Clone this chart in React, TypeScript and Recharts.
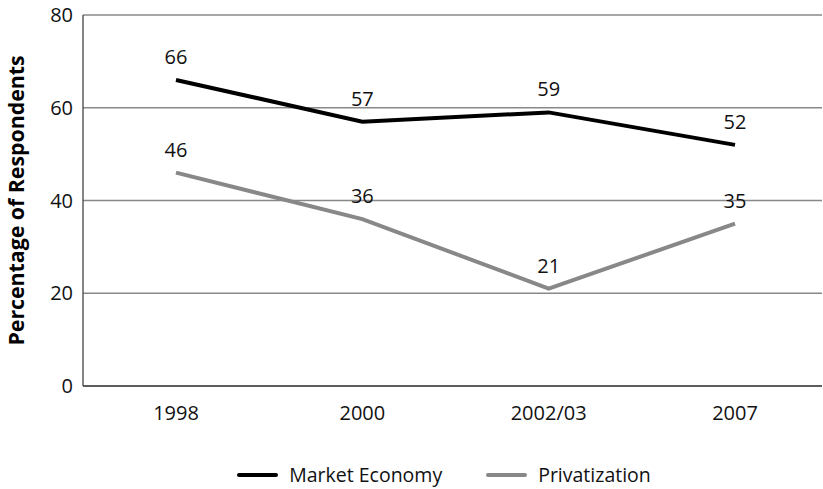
import React from 'react';
import { LineChart, Line, XAxis, YAxis, CartesianGrid, Legend, LabelList, Label } from 'recharts';

const years = ['1998', '2000', '2002/03', '2007'];
const marketEconomy = [66, 57, 59, 52];
const privatization = [46, 36, 21, 35];
const yTicks = [0, 20, 40, 60, 80];

const data = years.map((y, i) => ({ year: y, market: marketEconomy[i], priv: privatization[i] }));

const FONT = '"Open Sans", sans-serif';

const legendItems = [
  { name: 'Market Economy', color: '#000000' },
  { name: 'Privatization', color: '#888888' },
];

const renderLegend = () => (
  <div style={{ display: 'flex', justifyContent: 'center', alignItems: 'center', fontFamily: FONT, fontSize: 19.5, color: '#111', paddingLeft: 66, paddingTop: 20 }}>
    {legendItems.map((it, i) => (
      <div key={it.name} style={{ display: 'flex', alignItems: 'center', marginRight: i === 0 ? 44 : 0 }}>
        <svg width={41} height={6} style={{ marginRight: 11 }}>
          <line x1={2} y1={3} x2={39} y2={3} stroke={it.color} strokeWidth={4} strokeLinecap="round" />
        </svg>
        <span>{it.name}</span>
      </div>
    ))}
  </div>
);

const YLabel = (props: any) => {
  const vb = props.viewBox || {};
  const cy = vb.y + vb.height / 2;
  const cx = 15;
  return (
    <text x={cx} y={cy} transform={`rotate(-90, ${cx}, ${cy})`} textAnchor="middle" dominantBaseline="central"
      fontFamily={FONT} fontWeight="bold" fontSize={21.3} fill="#000">
      Percentage of Respondents
    </text>
  );
};

export default function App() {
  return (
    <div style={{ position: 'absolute', left: 0, top: 0 }}>
      <LineChart width={823} height={489} data={data} margin={{ top: 15, right: 1, left: 0, bottom: 0 }}>
        <CartesianGrid vertical={false} stroke="#888" strokeWidth={1.3} />
        <XAxis dataKey="year" tickLine={false} axisLine={{ stroke: '#444', strokeWidth: 1.3 }}
          padding={{ left: 93, right: 87 }}
          tick={{ fontFamily: FONT, fontSize: 20, fill: '#111' }} tickMargin={14} height={55} />
        <YAxis domain={[0, 80]} ticks={yTicks} width={83} tickLine={false} axisLine={{ stroke: '#444', strokeWidth: 1.3 }}
          tick={{ fontFamily: FONT, fontSize: 20, fill: '#111' }} tickMargin={4}>
          <Label content={YLabel} />
        </YAxis>
        <Legend verticalAlign="bottom" height={48} content={renderLegend} />
        <Line type="linear" dataKey="market" name="Market Economy" stroke="#000" strokeWidth={4} dot={false} isAnimationActive={false}>
          <LabelList dataKey="market" position="top" offset={16} style={{ fontFamily: FONT, fontSize: 20, fill: '#111' }} />
        </Line>
        <Line type="linear" dataKey="priv" name="Privatization" stroke="#888" strokeWidth={4} dot={false} isAnimationActive={false}>
          <LabelList dataKey="priv" position="top" offset={16} style={{ fontFamily: FONT, fontSize: 20, fill: '#111' }} />
        </Line>
      </LineChart>
    </div>
  );
}
